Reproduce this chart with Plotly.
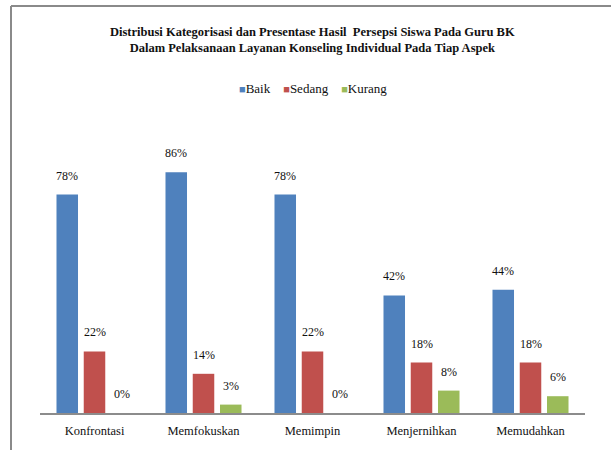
import plotly.graph_objects as go

# Data: percentage of students per category for each counselling aspect
aspects = ["Konfrontasi", "Memfokuskan", "Memimpin", "Menjernihkan", "Memudahkan"]
baik = [78, 86, 78, 42, 44]
sedang = [22, 14, 22, 18, 18]
kurang = [0, 3, 0, 8, 6]
series_names = ["Baik", "Sedang", "Kurang"]
series_colors = ["#4F81BD", "#C0504D", "#9BBB59"]

title_lines = [
    "Distribusi Kategorisasi dan Presentase Hasil  Persepsi Siswa Pada Guru BK",
    "Dalam Pelaksanaan Layanan Konseling Individual Pada Tiap Aspek",
]

SERIF = "Liberation Serif"

# Layout geometry (pixels)
W, H = 611, 450
M_L, M_R, M_T, M_B = 40, 26, 133, 37
plot_w = W - M_L - M_R
plot_h = H - M_T - M_B
BARGAP = 0.25
cat_px = plot_w / len(aspects)
slot_px = cat_px * (1 - BARGAP) / len(series_names)


def px_to_paper_x(px):
    return (px - M_L) / plot_w


def px_to_paper_y(py):
    return (H - M_B - py) / plot_h


fig = go.Figure()
all_series = [baik, sedang, kurang]
for name, vals, color in zip(series_names, all_series, series_colors):
    fig.add_trace(go.Bar(
        x=aspects, y=vals, name=name,
        marker=dict(color=color, line=dict(width=0)),
        showlegend=False, hoverinfo="x+y+name",
    ))

# Value labels above each bar
annotations = []
for i, vals in enumerate(all_series):
    for cat, v in zip(aspects, vals):
        annotations.append(dict(
            x=cat, y=v, xref="x", yref="y",
            text=f"{v}%", showarrow=False,
            xshift=(i - 1) * slot_px, yshift=19,
            yanchor="middle", xanchor="center",
            font=dict(family=SERIF, size=12, color="#111111"),
        ))

# Compact legend row: coloured squares followed by series names
legend_parts = []
for name, color in zip(series_names, series_colors):
    legend_parts.append(
        f'<span style="color:{color};font-size:11px">■</span>{name}'
    )
annotations.append(dict(
    x=0.5, y=px_to_paper_y(89), xref="paper", yref="paper",
    text="    ".join(legend_parts), showarrow=False,
    xanchor="center", yanchor="middle",
    font=dict(family=SERIF, size=13, color="#111111"),
))

# Two-line bold title
annotations.append(dict(
    x=0.5, y=px_to_paper_y(40), xref="paper", yref="paper",
    text="<b>" + "<br>".join(title_lines) + "</b>", showarrow=False,
    xanchor="center", yanchor="middle", align="center",
    font=dict(family=SERIF, size=12.5, color="#111111"),
))

# Chart frame (top and left edges)
frame = dict(color="#8a8a8a", width=2)
shapes = [
    dict(type="line", xref="paper", yref="paper",
         x0=px_to_paper_x(11), x1=px_to_paper_x(W + 5),
         y0=px_to_paper_y(6), y1=px_to_paper_y(6), line=frame),
    dict(type="line", xref="paper", yref="paper",
         x0=px_to_paper_x(11), x1=px_to_paper_x(11),
         y0=px_to_paper_y(6), y1=px_to_paper_y(H + 5), line=frame),
]

fig.update_layout(
    width=W, height=H,
    margin=dict(l=M_L, r=M_R, t=M_T, b=M_B, autoexpand=False),
    paper_bgcolor="white", plot_bgcolor="white",
    barmode="group", bargap=BARGAP, bargroupgap=0.21,
    annotations=annotations, shapes=shapes,
    font=dict(family=SERIF, color="#111111"),
)
fig.update_xaxes(
    showline=True, linecolor="#8c8c8c", linewidth=2,
    showgrid=False, ticks="", zeroline=False,
    tickfont=dict(family=SERIF, size=12.5, color="#111111"),
    ticklabelstandoff=5,
)
fig.update_yaxes(
    range=[0, 100], visible=False, showgrid=False, zeroline=False,
)

fig.write_html("out.html")
